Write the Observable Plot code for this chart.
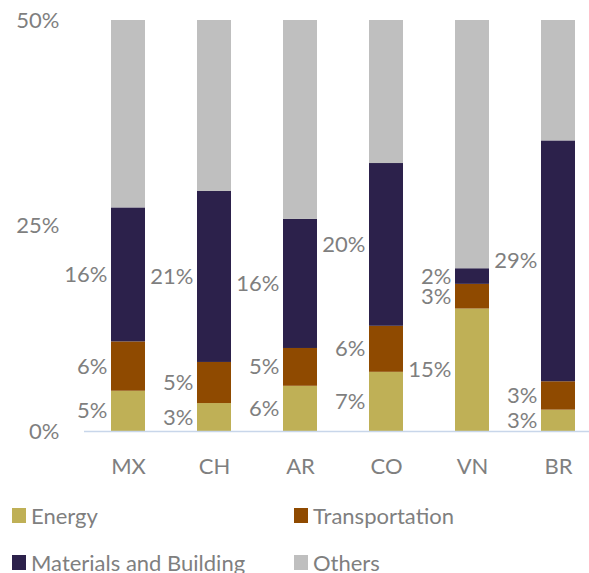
<!DOCTYPE html>
<html>
<head>
<meta charset="utf-8">
<script src="https://cdn.jsdelivr.net/npm/d3@7"></script>
<script src="https://cdn.jsdelivr.net/npm/@observablehq/plot@0.6"></script>
<style>
  body { margin: 0; background: #fff; font-family: Lato, "Open Sans", sans-serif; }
  #wrap { position: relative; width: 589px; height: 573px; overflow: hidden; }
  .leg { position: absolute; display: flex; align-items: center; font-size: 22px; color: #7f7f7f; white-space: nowrap; }
  .sw { width: 14px; height: 15px; margin-right: 5px; }
</style>
</head>
<body>
<div id="wrap"><div id="chart"></div></div>
<script>
const countries = ["MX", "CH", "AR", "CO", "VN", "BR"];
const categories = ["Energy", "Transportation", "Materials and Building", "Others"];
const colors = ["#BFB056", "#8F4A00", "#2C214B", "#BFBFBF"];
const energy = [4.9, 3.4, 5.5, 7.2, 14.9, 2.6];
const transportation = [6.0, 5.0, 4.6, 5.6, 3.0, 3.45];
const materials = [16.3, 20.8, 15.7, 19.8, 1.9, 29.3];
const total = 50;
const yTicks = [0, 25, 50];

const data = [];
countries.forEach((c, i) => {
  const vals = [energy[i], transportation[i], materials[i]];
  const others = total - vals.reduce((a, b) => a + b, 0);
  [...vals, others].forEach((v, j) => data.push({country: c, cat: categories[j], value: v, show: j < 3}));
});

const gray = "#7f7f7f";
const chart = Plot.plot({
  width: 589,
  height: 490,
  marginLeft: 84,
  marginRight: 0,
  marginTop: 20,
  marginBottom: 59,
  style: {fontFamily: "Lato, 'Open Sans', sans-serif", fontSize: "22px", color: gray, background: "white"},
  x: {domain: countries, range: [84, 602], paddingInner: 0.6, paddingOuter: 0.3, align: 0.5},
  y: {domain: [0, 50]},
  color: {domain: categories, range: colors},
  marks: [
    Plot.barY(data, {x: "country", y: "value", z: "cat", fill: "cat"}),
    Plot.ruleY([0], {stroke: "#C8D6EA", strokeWidth: 1.5}),
    Plot.text(data, Plot.stackY({
      x: "country", y: "value", z: "cat",
      text: d => d.show ? Math.round(d.value) + "%" : "",
      textAnchor: "end", dx: -21, fill: gray, fontSize: 22
    })),
    Plot.axisY({ticks: yTicks, tickSize: 0, tickPadding: 25, tickFormat: d => d + "%", label: null, fill: gray, fontSize: 22}),
    Plot.axisX({tickSize: 0, tickPadding: 27, label: null, fill: gray, fontSize: 22})
  ]
});
document.getElementById("chart").appendChild(chart);

const legendPos = [[12, 515], [294, 515], [12, 562], [294, 562]];
const wrap = document.getElementById("wrap");
categories.forEach((c, i) => {
  const el = document.createElement("div");
  el.className = "leg";
  el.style.left = legendPos[i][0] + "px";
  el.style.top = (legendPos[i][1] - 15) + "px";
  el.style.height = "30px";
  const sw = document.createElement("div");
  sw.className = "sw";
  sw.style.background = colors[i];
  el.appendChild(sw);
  el.appendChild(document.createTextNode(c));
  wrap.appendChild(el);
});
</script>
</body>
</html>
